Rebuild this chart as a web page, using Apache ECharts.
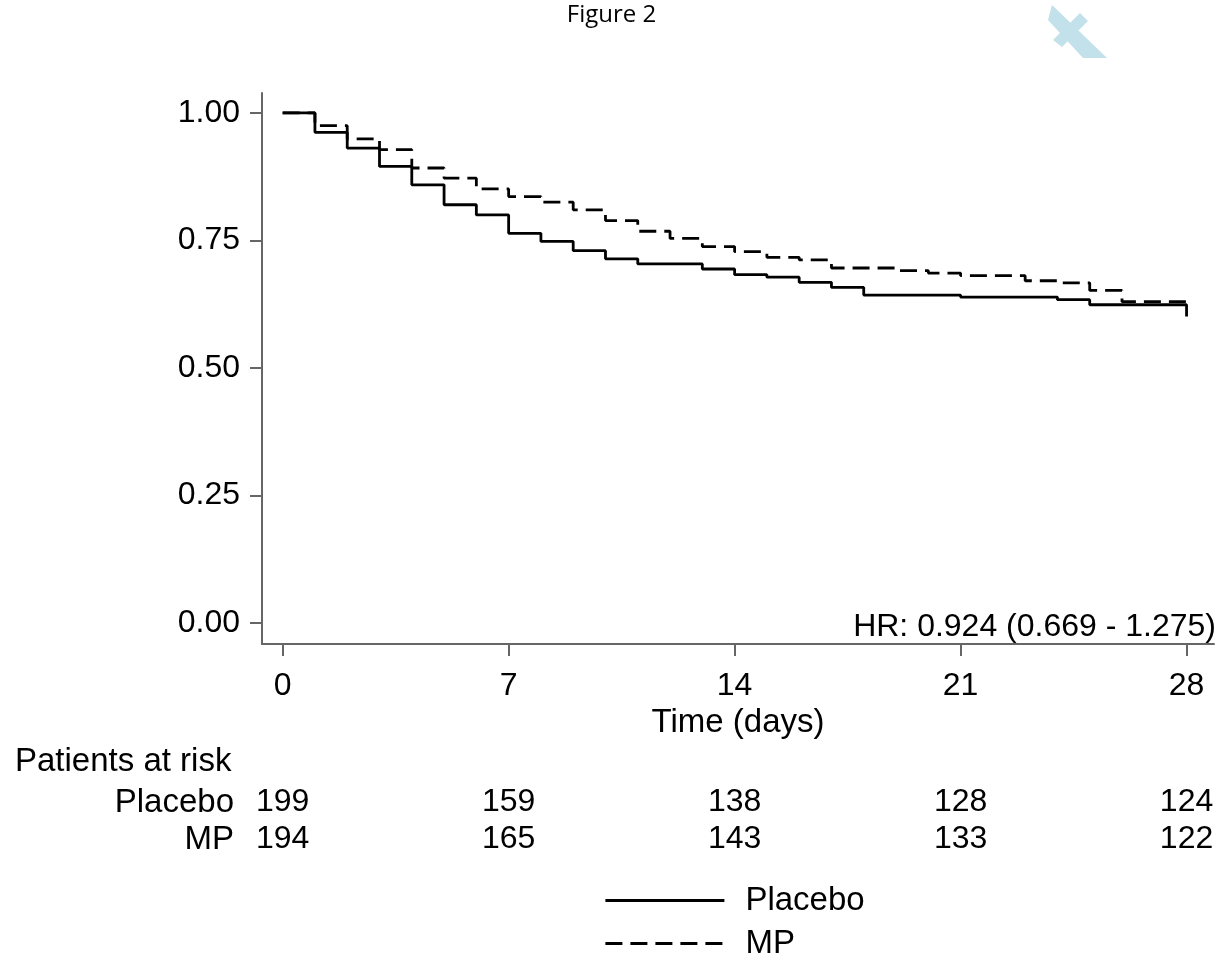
<!DOCTYPE html>
<html>
<head>
<meta charset="utf-8">
<script src="https://cdn.jsdelivr.net/npm/echarts@6/dist/echarts.min.js"></script>
<style>
html,body{margin:0;padding:0;background:#fff;}
#chart{width:1223px;height:962px;}
</style>
</head>
<body>
<div id="chart"></div>
<script>
// ---- data ----
const placeboTimes = [0, 1, 2, 3, 4, 5, 6, 7, 8, 9, 10, 11, 13, 14, 15, 16, 17, 18, 21, 24, 25, 28];
const placeboSurv  = [1.000, 0.962, 0.931, 0.895, 0.859, 0.820, 0.800, 0.764, 0.748, 0.730, 0.714, 0.704, 0.694, 0.683, 0.678, 0.668, 0.658, 0.643, 0.639, 0.634, 0.624, 0.601];
const mpTimes = [0, 1, 2, 3, 4, 5, 6, 7, 8, 9, 10, 11, 12, 13, 14, 15, 16, 17, 19, 20, 21, 23, 24, 25, 26, 28];
const mpSurv  = [1.000, 0.975, 0.949, 0.928, 0.892, 0.872, 0.851, 0.836, 0.825, 0.810, 0.789, 0.768, 0.754, 0.738, 0.728, 0.717, 0.712, 0.696, 0.691, 0.686, 0.681, 0.671, 0.667, 0.652, 0.630, 0.630];
const xTicks = [0, 7, 14, 21, 28];
const yTicks = [0, 0.25, 0.5, 0.75, 1];
const riskTimes = [0, 7, 14, 21, 28];
const riskPlacebo = [199, 159, 138, 128, 124];
const riskMP = [194, 165, 143, 133, 122];
const seriesNames = ['Placebo', 'MP'];
const hrText = 'HR: 0.924 (0.669 - 1.275)';

const FONT = '"Liberation Sans", Arial, sans-serif';
const AX = '#666';

const chart = echarts.init(document.getElementById('chart'), null, {renderer: 'canvas'});

const toPairs = (t, v) => t.map((x, i) => [x, v[i]]);
const riskData = [];
riskTimes.forEach((t, i) => riskData.push([t, 'Placebo', riskPlacebo[i]]));
riskTimes.forEach((t, i) => riskData.push([t, 'MP', riskMP[i]]));

const XMIN = -0.64, XMAX = 28.85;

chart.setOption({
  animation: false,
  backgroundColor: '#fff',
  textStyle: {fontFamily: FONT},
  grid: [
    {left: 262, right: 9, top: 93, bottom: 318},
    {left: 262, right: 9, top: 784, height: 74}
  ],
  xAxis: [
    {
      type: 'value', gridIndex: 0, min: XMIN, max: XMAX,
      name: 'Time (days)', nameLocation: 'middle', nameGap: 56,
      nameTextStyle: {fontFamily: FONT, fontSize: 33, color: '#000'},
      axisLine: {show: true, onZero: false, lineStyle: {color: AX, width: 2}},
      axisTick: {show: true, length: 12, customValues: xTicks, lineStyle: {color: AX, width: 2}},
      axisLabel: {customValues: xTicks, margin: 26, fontFamily: FONT, fontSize: 32, color: '#000'},
      splitLine: {show: false}
    },
    {
      type: 'value', gridIndex: 1, min: XMIN, max: XMAX, show: false
    }
  ],
  yAxis: [
    {
      type: 'value', gridIndex: 0, min: -0.041, max: 1.039,
      axisLine: {show: true, onZero: false, lineStyle: {color: AX, width: 2}},
      axisTick: {show: true, length: 12, customValues: yTicks, lineStyle: {color: AX, width: 2}},
      axisLabel: {customValues: yTicks, margin: 22, fontFamily: FONT, fontSize: 32, color: '#000',
                  formatter: v => v.toFixed(2)},
      splitLine: {show: false}
    },
    {
      type: 'category', gridIndex: 1, data: ['MP', 'Placebo'],
      axisLine: {show: false}, axisTick: {show: false}, splitLine: {show: false},
      axisLabel: {interval: 0, margin: 28, fontFamily: FONT, fontSize: 33, color: '#000'}
    }
  ],
  legend: {
    orient: 'vertical', left: 604, top: 884, padding: 0,
    itemWidth: 119, itemHeight: 14, itemGap: 10,
    data: seriesNames,
    itemStyle: {opacity: 0},
    lineStyle: {width: 2.8},
    textStyle: {fontFamily: FONT, fontSize: 33, color: '#000', lineHeight: 32, padding: [0, 0, 0, 16]}
  },
  series: [
    {
      name: seriesNames[0], type: 'line', step: 'end', symbol: 'none',
      xAxisIndex: 0, yAxisIndex: 0,
      lineStyle: {color: '#000', width: 2.8, type: 'solid'},
      itemStyle: {color: '#000'},
      data: toPairs(placeboTimes, placeboSurv), z: 3
    },
    {
      name: seriesNames[1], type: 'line', step: 'end', symbol: 'none',
      xAxisIndex: 0, yAxisIndex: 0,
      lineStyle: {color: '#000', width: 2.8, type: [17, 8]},
      itemStyle: {color: '#000'},
      data: toPairs(mpTimes, mpSurv), z: 2
    },
    {
      name: 'risk', type: 'scatter', xAxisIndex: 1, yAxisIndex: 1,
      symbolSize: 1, itemStyle: {color: 'rgba(0,0,0,0)', opacity: 1},
      silent: true,
      label: {show: true, position: 'inside', fontFamily: FONT, fontSize: 32, color: '#000',
              textBorderWidth: 0, opacity: 1,
              formatter: p => String(p.value[2])},
      data: riskData
    }
  ],
  graphic: [
    {type: 'text', left: 'center', top: 3,
     style: {text: 'Figure 2', font: '24px "Open Sans", "Noto Sans", sans-serif', fill: '#000'}},
    {type: 'text', left: 15, top: 745,
     style: {text: 'Patients at risk', font: '33px ' + FONT, fill: '#000'}},
    {type: 'text', right: 7, top: 611,
     style: {text: hrText, font: '32px ' + FONT, fill: '#000'}},
    {type: 'polygon', shape: {points: [[1052, 5], [1048, 20], [1083, 58], [1107, 58]]},
     style: {fill: '#c2e1ea'}},
    {type: 'polygon', shape: {points: [[1080, 13], [1088, 21], [1062, 47], [1053, 40]]},
     style: {fill: '#c2e1ea'}}
  ]
});
</script>
</body>
</html>
